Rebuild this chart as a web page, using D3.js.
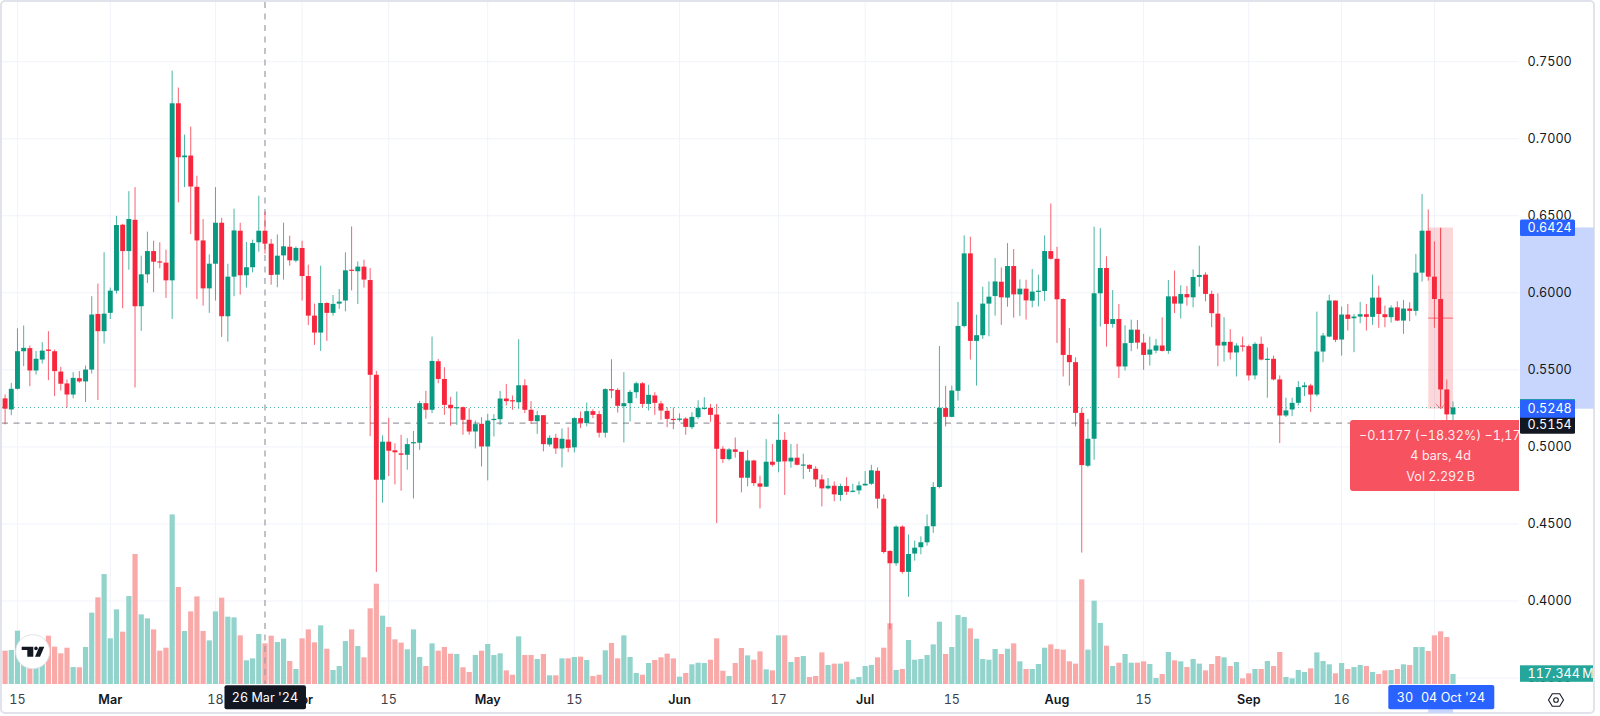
<!DOCTYPE html>
<html>
<head>
<meta charset="utf-8">
<title>Candles</title>
<script src="https://cdn.jsdelivr.net/npm/d3@7"></script>
<style>
    html, body { margin: 0; padding: 0; background: #fff; }
    svg { display: block; }
    text { font-family: Inter, "Liberation Sans", sans-serif; font-variant-numeric: tabular-nums; font-size: 12.6px; }
</style>
</head>
<body>
<script>
// daily bars, 13 Feb 2024 -> 04 Oct 2024
var firstDay = "2024-02-13";
var lastDay = "2024-10-04";

var opens = [
.5315,.5243,.5377,.5621,.5641,.5496,.5567,.5632,.5621,.5489,.5412,.5340,.5446,.5425,.5502,.5863,.5751,.5870,.6014,.6442,
.6271,.6474,.5913,.6120,.6271,.6204,.6196,.6081,.7230,.6880,.6891,.6688,.6340,.6029,.6189,.6455,.5848,.6105,.6403,.6114,
.6166,.6328,.6403,.6319,.6118,.6243,.6299,.6209,.6291,.6109,.5852,.5742,.5934,.5870,.5930,.5950,.6150,.6140,.6170,.6083,
.5468,.4787,.5034,.4978,
.4958,.4949,.5029,.5027,.5284,.5241,.5556,.5441,.5273,.5254,.5258,.5176,.5100,.5150,.5003,.5178,.5180,.5314,.5303,.5290,
.5400,.5241,.5167,.5206,.5016,.5059,.4990,.5048,.4997,.5187,.5154,.5232,.5213,.5092,.5375,.5370,.5264,.5284,.5355,.5413,
.5279,.5334,.5282,.5234,.5182,.5176,.5184,.5128,.5193,.5249,.5254,.5210,.4988,.4921,.4984,.4968,.4800,.4912,.4763,.4742,
.4904,.4904,.5046,.4906,.4930,
.4882,.4884,.4858,.4789,.4731,.4748,.4688,.4746,.4709,.4718,.4750,.4761,.4845,.4664,.4325,.4245,.4483,.4189,.4308,.4349,
.4381,.4485,.4740,.5252,.5195,.5364,.5785,.6256,.5688,.5725,.5930,.5979,.6072,.5969,.6174,.5990,.6027,.5949,.6008,.6012,
.6271,.6221,.5960,.5597,.5550,.5221,.4878,.5053,.5997,.6161,.5798,.5830,.5522,.5675,.5761,.5677,.5599,.5625,.5658,.5623,
.5977,.5930,.5992,.5971,.6103,
.6118,.5993,.5865,.5658,.5682,.5613,.5658,.5654,.5464,.5669,.5567,.5572,.5438,.5204,.5243,.5286,.5388,.5399,.5340,.5619,
.5716,.5950,.5697,.5859,.5835,.5846,.5861,.5844,.5969,.5861,.5842,.5906,.5820,.5898,.5883,.6131,.6403,.6105,.5960,.5373,.5211
];
var closes = [
.5248,.5377,.5621,.5643,.5496,.5572,.5625,.5623,.5492,.5410,.5340,.5448,.5425,.5502,.5859,.5751,.5865,.6014,.6440,.6271,
.6479,.5913,.6120,.6271,.6202,.6198,.6081,.7230,.6880,.6891,.6690,.6340,.6029,.6189,.6455,.5848,.6105,.6405,.6114,.6166,
.6323,.6403,.6319,.6116,.6241,.6302,.6211,.6291,.6109,.5852,.5742,.5934,.5870,.5928,.5943,.6146,.6146,.6170,.6086,.5468,
.4787,.5034,.4975,.4965,
.4949,.5018,.5031,.5284,.5241,.5558,.5441,.5273,.5251,.5258,.5176,.5100,.5148,.5003,.5171,.5182,.5314,.5297,.5299,.5400,
.5241,.5169,.5206,.5018,.5059,.4990,.5053,.4994,.5187,.5156,.5232,.5208,.5092,.5375,.5366,.5267,.5284,.5357,.5413,.5279,
.5338,.5286,.5236,.5182,.5176,.5184,.5130,.5195,.5254,.5254,.5208,.4988,.4921,.4984,.4968,.4800,.4912,.4765,.4742,.4904,
.4884,.5046,.4906,.4930,.4884,
.4886,.4858,.4789,.4731,.4748,.4692,.4746,.4709,.4716,.4750,.4761,.4848,.4664,.4318,.4245,.4483,.4189,.4305,.4346,.4381,
.4485,.4740,.5254,.5195,.5366,.5785,.6256,.5688,.5725,.5930,.5975,.6074,.5971,.6174,.5990,.6027,.5951,.6008,.6014,.6271,
.6221,.5958,.5597,.5550,.5221,.4882,.5053,.5997,.6161,.5798,.5830,.5522,.5673,.5761,.5677,.5597,.5632,.5658,.5623,.5977,
.5930,.5992,.5971,.6103,.6116,
.5993,.5868,.5658,.5682,.5613,.5658,.5654,.5464,.5669,.5567,.5572,.5438,.5204,.5237,.5286,.5388,.5399,.5340,.5619,.5723,
.5950,.5695,.5859,.5831,.5846,.5861,.5844,.5969,.5863,.5842,.5904,.5820,.5898,.5883,.6131,.6403,.6105,.5960,.5373,.5211,.5256
];
var highs = [
.5340,.5416,.5770,.5788,.5658,.5623,.5680,.5751,.5632,.5520,.5438,.5485,.5492,.5528,.5978,.6060,.6263,.6034,.6500,.6448,
.6660,.6686,.6241,.6397,.6338,.6328,.6280,.7442,.7332,.7027,.7079,.6760,.6479,.6250,.6686,.6487,.6189,.6546,.6455,.6330,
.6345,.6630,.6526,.6349,.6379,.6455,.6371,.6302,.6338,.6183,.5930,.6176,.5939,.5986,.6025,.6263,.6431,.6204,.6215,.6161,
.5494,.5075,.5189,.5023,
.5079,.5057,.5104,.5299,.5364,.5716,.5571,.5517,.5325,.5359,.5262,.5251,.5171,.5193,.5215,.5213,.5364,.5409,.5334,.5699,
.5439,.5297,.5234,.5206,.5076,.5085,.5120,.5128,.5193,.5230,.5288,.5245,.5234,.5381,.5569,.5381,.5485,.5370,.5424,.5420,
.5403,.5355,.5299,.5258,.5256,.5217,.5193,.5225,.5303,.5323,.5279,.5279,.5005,.4992,.5061,.4968,.4979,.4917,.4813,.5051,
.5019,.5213,.5096,.5019,.5020,
.4956,.4886,.4874,.4820,.4798,.4776,.4761,.4804,.4761,.4776,.4843,.4884,.4867,.4692,.4329,.4491,.4491,.4431,.4392,.4420,
.4562,.4772,.5655,.5396,.5398,.5941,.6373,.6364,.5858,.6040,.6074,.6226,.6165,.6323,.6284,.6087,.6085,.6154,.6118,.6373,
.6580,.6299,.5964,.5772,.5582,.5254,.5182,.6429,.6420,.6237,.6018,.5928,.5789,.5826,.5824,.5733,.5716,.5701,.5841,.6083,
.6144,.6049,.6044,.6152,.6306,
.6133,.6014,.5997,.5842,.5764,.5673,.5716,.5664,.5680,.5716,.5645,.5593,.5464,.5319,.5319,.5427,.5420,.5410,.5878,.5740,
.5988,.5950,.5911,.5928,.5863,.5941,.5928,.6118,.6047,.5917,.5919,.5945,.5954,.5939,.6252,.6641,.6541,.6334,.6420,.5438,.5295
];
var lows = [
.5146,.5206,.5373,.5524,.5394,.5470,.5541,.5433,.5330,.5366,.5254,.5315,.5416,.5291,.5476,.5304,.5671,.5831,.5995,.5900,
.6150,.5386,.5753,.6064,.6004,.6159,.5967,.5831,.6587,.6686,.6382,.5960,.5917,.5870,.5950,.5714,.5684,.5978,.5988,.6034,
.6133,.6267,.6254,.6053,.6036,.6086,.6176,.6198,.5950,.5790,.5662,.5623,.5688,.5852,.5896,.5880,.6016,.5928,.6034,.5070,
.4189,.4638,.4811,.4757,
.4716,.4852,.4666,.4981,.5184,.5219,.5413,.5208,.5137,.5143,.5079,.5079,.4990,.4873,.4783,.5068,.5143,.5269,.5241,.5247,
.5219,.5148,.5085,.4971,.5003,.4955,.4867,.4966,.4964,.5122,.5133,.5187,.5061,.5061,.5316,.5223,.5029,.5165,.5316,.5256,
.5236,.5208,.5176,.5128,.5115,.5165,.5079,.5115,.5180,.5241,.5163,.4506,.4895,.4912,.4930,.4705,.4744,.4746,.4601,.4740,
.4873,.4835,.4688,.4865,.4880,
.4791,.4837,.4740,.4614,.4724,.4647,.4649,.4688,.4705,.4692,.4750,.4753,.4601,.4308,.3817,.4228,.4178,.4027,.4262,.4303,
.4359,.4442,.4731,.5133,.5193,.5301,.5776,.5567,.5398,.5701,.5718,.5852,.5792,.5910,.5839,.5850,.5826,.5906,.5912,.5947,
.6215,.5675,.5457,.5398,.5133,.4314,.4869,.4917,.5781,.5651,.5774,.5448,.5496,.5621,.5636,.5500,.5528,.5608,.5619,.5604,
.5869,.5833,.5917,.5906,.6040,
.5945,.5777,.5524,.5554,.5567,.5457,.5619,.5431,.5438,.5561,.5319,.5431,.5025,.5194,.5200,.5269,.5330,.5226,.5328,.5550,
.5712,.5680,.5593,.5755,.5615,.5803,.5755,.5792,.5773,.5777,.5807,.5816,.5734,.5816,.5852,.6073,.6079,.5773,.5258,.5107,.5129
];
// volume in millions
var volumes = [
391,399,626,332,235,313,391,567,438,360,426,199,196,434,837,1017,1290,536,876,614,
1032,1525,817,770,641,391,426,1990,1138,622,852,1028,622,512,852,1013,790,782,571,278,
301,587,477,567,493,532,270,176,536,641,489,688,414,164,211,504,641,446,313,888,
1177,802,669,524,
485,407,641,317,211,477,391,434,356,352,196,141,340,391,469,340,360,160,109,559,
340,340,293,352,102,102,301,301,317,321,282,94,109,395,481,301,571,317,129,109,
246,282,313,356,301,86,129,231,250,246,285,536,156,94,246,422,336,285,383,172,
160,571,571,258,317,
328,82,94,371,223,239,239,262,55,82,211,223,313,426,712,164,176,516,285,293,
340,465,731,352,434,809,786,653,532,293,285,411,352,414,477,266,176,176,235,426,
465,411,403,266,239,1228,403,978,716,450,211,250,352,250,250,266,235,70,117,375,
278,266,199,293,239,
160,235,328,313,211,258,66,125,176,176,270,211,375,82,66,164,141,184,371,270,
231,125,246,176,199,223,211,141,117,160,164,176,231,223,434,434,387,571,618,551,117.344
];

var priceTicks = [0.75, 0.70, 0.65, 0.60, 0.55, 0.50, 0.45, 0.40, 0.35];
// the Oct label sits under the blue date label, so it only gets a grid line
var timeTicks = [
    ["2024-02-15", "15", false], ["2024-03-01", "Mar", true], ["2024-03-18", "18", false], ["2024-04-01", "Apr", true],
    ["2024-04-15", "15", false], ["2024-05-01", "May", true], ["2024-05-15", "15", false], ["2024-06-01", "Jun", true],
    ["2024-06-17", "17", false], ["2024-07-01", "Jul", true], ["2024-07-15", "15", false], ["2024-08-01", "Aug", true],
    ["2024-08-15", "15", false], ["2024-09-01", "Sep", true], ["2024-09-16", "16", false], ["2024-10-01", "", true]
];
var crossDay = "2024-03-26";
var crossPrice = 0.5154;
var measureStart = "2024-09-30", measureEnd = "2024-10-04";
var measureTop = 0.6424, measureBottom = 0.5248;
var measureText = ["\u22120.1177 (\u221218.32%) \u22121,177.0", "4 bars, 4d", "Vol 2.292\u2009B"];

var w = 1600, h = 716;
var paneRight = 1519, baseY = 684, axisRight = 1593;
var upColor = "#089981", downColor = "#f7263c";
var upVol = "#92d3cc", downVol = "#f8a9a8";
var blue = "#2962ff", bandBlue = "#c8d6fd", black = "#131722";
var grid = "#f0f3fa";

var parse = d3.utcParse("%Y-%m-%d");
var days = d3.utcDay.range(parse(firstDay), d3.utcDay.offset(parse(lastDay), 1));
var bars = days.map(function (d, i) {
    return {date: d, o: opens[i], h: highs[i], l: lows[i], c: closes[i], v: volumes[i]};
});

var x = d3.scaleUtc().domain([days[0], days[days.length - 1]]).range([5.1, 1453]);
var y = d3.scaleLinear().domain([0.75, 0.40]).range([61.7, 601]);
// 117.344M stands 10px tall at the base of the pane
var yVol = d3.scaleLinear().domain([0, 117.344]).range([baseY, baseY - 10]);

var svg = d3.select("body").append("svg").attr("width", w).attr("height", h);

svg.append("defs").append("clipPath").attr("id", "pane")
    .append("rect").attr("x", 2).attr("y", 2).attr("width", paneRight - 2).attr("height", baseY - 2);
svg.select("defs").append("clipPath").attr("id", "tipClip")
    .append("rect").attr("x", 1349).attr("y", 415).attr("width", paneRight - 1349).attr("height", 80);

// frame
svg.append("rect").attr("x", 1).attr("y", 1).attr("width", axisRight).attr("height", 712).attr("rx", 4)
    .attr("fill", "#fff").attr("stroke", "#e0e3eb").attr("stroke-width", 2);

// grid
var gridG = svg.append("g").attr("clip-path", "url(#pane)");
gridG.selectAll(".gy").data(priceTicks).enter().append("line")
    .attr("x1", 2).attr("x2", paneRight)
    .attr("y1", function (d) { return y(d); }).attr("y2", function (d) { return y(d); })
    .attr("stroke", grid).attr("stroke-width", 1);
gridG.selectAll(".gx").data(timeTicks).enter().append("line")
    .attr("x1", function (d) { return x(parse(d[0])); }).attr("x2", function (d) { return x(parse(d[0])); })
    .attr("y1", 2).attr("y2", baseY)
    .attr("stroke", grid).attr("stroke-width", 1);

var chart = svg.append("g").attr("clip-path", "url(#pane)");

// volume under the candles
chart.selectAll(".vol").data(bars).enter().append("rect")
    .attr("x", function (d) { return x(d.date) - 2.6; })
    .attr("width", 5.2)
    .attr("y", function (d) { return yVol(d.v); })
    .attr("height", function (d) { return baseY - yVol(d.v); })
    .attr("fill", function (d) { return d.c >= d.o ? upVol : downVol; });

// crosshair and last price line
chart.append("line").attr("x1", 2).attr("x2", paneRight).attr("y1", y(crossPrice)).attr("y2", y(crossPrice))
    .attr("stroke", "#9c9ca3").attr("stroke-width", 1.2).attr("stroke-dasharray", "6 5.5");
chart.append("line").attr("x1", x(parse(crossDay))).attr("x2", x(parse(crossDay))).attr("y1", 2).attr("y2", baseY)
    .attr("stroke", "#9c9ca3").attr("stroke-width", 1.2).attr("stroke-dasharray", "6 5.5");
chart.append("line").attr("x1", 2).attr("x2", paneRight)
    .attr("y1", y(closes[closes.length - 1])).attr("y2", y(closes[closes.length - 1]))
    .attr("stroke", upColor).attr("stroke-opacity", 0.7).attr("stroke-dasharray", "1 3");

// wicks + bodies
chart.selectAll(".wick").data(bars).enter().append("line")
    .attr("x1", function (d) { return x(d.date); }).attr("x2", function (d) { return x(d.date); })
    .attr("y1", function (d) { return y(d.h); }).attr("y2", function (d) { return y(d.l); })
    .attr("stroke", function (d) { return d.c >= d.o ? upColor : downColor; })
    .attr("stroke-width", 1).attr("opacity", 0.72);
chart.selectAll(".body").data(bars).enter().append("rect")
    .attr("x", function (d) { return x(d.date) - 2.45; })
    .attr("width", 4.9)
    .attr("y", function (d) { return y(Math.max(d.o, d.c)); })
    .attr("height", function (d) { return Math.max(1.2, Math.abs(y(d.o) - y(d.c))); })
    .attr("fill", function (d) { return d.c >= d.o ? upColor : downColor; });

// measure tool
var mx0 = x(parse(measureStart)), mx1 = x(parse(measureEnd)), mMid = (mx0 + mx1) / 2;
var my0 = y(measureTop), my1 = y(measureBottom), myMid = (my0 + my1) / 2;
var measure = svg.append("g");
measure.append("rect").attr("x", mx0).attr("y", my0).attr("width", mx1 - mx0).attr("height", my1 - my0)
    .attr("fill", "#f23645").attr("fill-opacity", 0.2);
measure.append("line").attr("x1", mx0).attr("x2", mx1).attr("y1", myMid).attr("y2", myMid)
    .attr("stroke", "#f23645").attr("stroke-opacity", 0.7);
measure.append("line").attr("x1", mMid).attr("x2", mMid).attr("y1", my0).attr("y2", my1)
    .attr("stroke", "#f23645").attr("stroke-opacity", 0.55);
measure.append("path").attr("d", "M" + (mMid - 5) + "," + (my1 - 5) + "L" + mMid + "," + my1 + "L" + (mMid + 5) + "," + (my1 - 5))
    .attr("fill", "none").attr("stroke", "#f23645").attr("stroke-opacity", 0.55);

// tooltip of the measure tool, runs into the price axis and gets cut there
var tip = svg.append("g");
tip.append("path").attr("d", "M1519,420H1353a3,3 0 0 0 -3,3V488a3,3 0 0 0 3,3H1519Z").attr("fill", "#f7525f");
var tipText = tip.append("g").attr("clip-path", "url(#tipClip)");
tipText.append("text").attr("x", 1359).attr("y", 435.5).attr("dy", "0.35em").attr("fill", "#fff").attr("fill-opacity", 0.92)
    .text(measureText[0]);
tipText.append("text").attr("x", mMid).attr("y", 456).attr("dy", "0.35em").attr("text-anchor", "middle").attr("fill", "#fff").attr("fill-opacity", 0.92)
    .text(measureText[1]);
tipText.append("text").attr("x", mMid).attr("y", 476.7).attr("dy", "0.35em").attr("text-anchor", "middle").attr("fill", "#fff").attr("fill-opacity", 0.92)
    .text(measureText[2]);

// price axis
var axisG = svg.append("g");
axisG.append("rect").attr("x", paneRight + 1).attr("y", my0).attr("width", axisRight - paneRight).attr("height", my1 - my0).attr("fill", bandBlue);
axisG.selectAll(".ptick").data(priceTicks).enter().append("text")
    .attr("x", 1527.5).attr("y", function (d) { return y(d); }).attr("dy", "0.35em")
    .attr("fill", black)
    .text(function (d) { return d3.format(".4f")(d); });

function priceLabel(val, color, yTop, yBot) {
    axisG.append("rect").attr("x", paneRight + 1).attr("y", yTop).attr("width", 55).attr("height", yBot - yTop).attr("rx", 1.5).attr("fill", color);
    axisG.append("text").attr("x", 1527.5).attr("y", (yTop + yBot) / 2).attr("dy", "0.35em")
        .attr("fill", "#fff").text(d3.format(".4f")(val));
}
// last price label peeks out behind the blue one
axisG.append("rect").attr("x", paneRight + 1).attr("y", 399).attr("width", 55).attr("height", 6).attr("fill", "#26a69a");
priceLabel(crossPrice, black, y(crossPrice) - 7, y(crossPrice) + 10.5);
priceLabel(measureTop, blue, my0 - 8, my0 + 8.5);
priceLabel(measureBottom, blue, my1 - 9, my1 + 9);

// volume label
axisG.append("rect").attr("x", paneRight + 1).attr("y", 665.3).attr("width", 73).attr("height", 16.5).attr("fill", "#26a69a");
axisG.append("text").attr("x", 1527.5).attr("y", 674).attr("dy", "0.35em").attr("fill", "#fff")
    .text(d3.format(".3f")(volumes[volumes.length - 1]) + "\u2009M");

// time axis
var timeG = svg.append("g");
timeG.selectAll("text").data(timeTicks.filter(function (d) { return d[1]; })).enter().append("text")
    .attr("x", function (d) { return x(parse(d[0])); }).attr("y", 700).attr("dy", "0.35em")
    .attr("text-anchor", "middle").attr("fill", function (d) { return d[2] ? black : "#3c404b"; })
    .style("font-weight", function (d) { return d[2] ? 600 : 400; })
    .text(function (d) { return d[1]; });

var cx = x(parse(crossDay));
timeG.append("rect").attr("x", cx - 40.5).attr("y", 685.3).attr("width", 81.5).attr("height", 24).attr("rx", 2).attr("fill", black);
timeG.append("text").attr("x", cx).attr("y", 697.3).attr("dy", "0.35em").attr("text-anchor", "middle").attr("fill", "#fff")
    .text("26 Mar '24");

timeG.append("rect").attr("x", mx0).attr("y", 685).attr("width", mx1 - mx0).attr("height", 28).attr("fill", bandBlue);
timeG.append("rect").attr("x", 1388.3).attr("y", 685).attr("width", 106).attr("height", 24.3).attr("rx", 2).attr("fill", blue);
timeG.append("text").attr("x", 1405).attr("y", 697.3).attr("dy", "0.35em").attr("text-anchor", "middle").attr("fill", "#fff")
    .text("30");
timeG.append("text").attr("x", mx1).attr("y", 697.3).attr("dy", "0.35em").attr("text-anchor", "middle").attr("fill", "#fff")
    .text("04 Oct '24");

// settings hexagon
var gear = svg.append("g").attr("transform", "translate(1556,700)").attr("fill", "none").attr("stroke", black).attr("stroke-width", 1.1);
gear.append("path").attr("d", "M-7.5,0L-3.7,-6.2H3.7L7.5,0L3.7,6.2H-3.7Z");
gear.append("circle").attr("r", 2.3);

// TV badge
var logo = svg.append("g");
logo.append("circle").attr("cx", 32.7).attr("cy", 651.7).attr("r", 17).attr("fill", "#fff").attr("stroke", "#e0e3eb");
logo.append("path").attr("fill", black)
    .attr("d", "M21.7,646.7H33.3V656.7H27.3V649.9H21.7ZM39.3,646.7H44.3L40,656.7H35Z");
logo.append("circle").attr("cx", 36).attr("cy", 648.4).attr("r", 1.8).attr("fill", black);
</script>
</body>
</html>
